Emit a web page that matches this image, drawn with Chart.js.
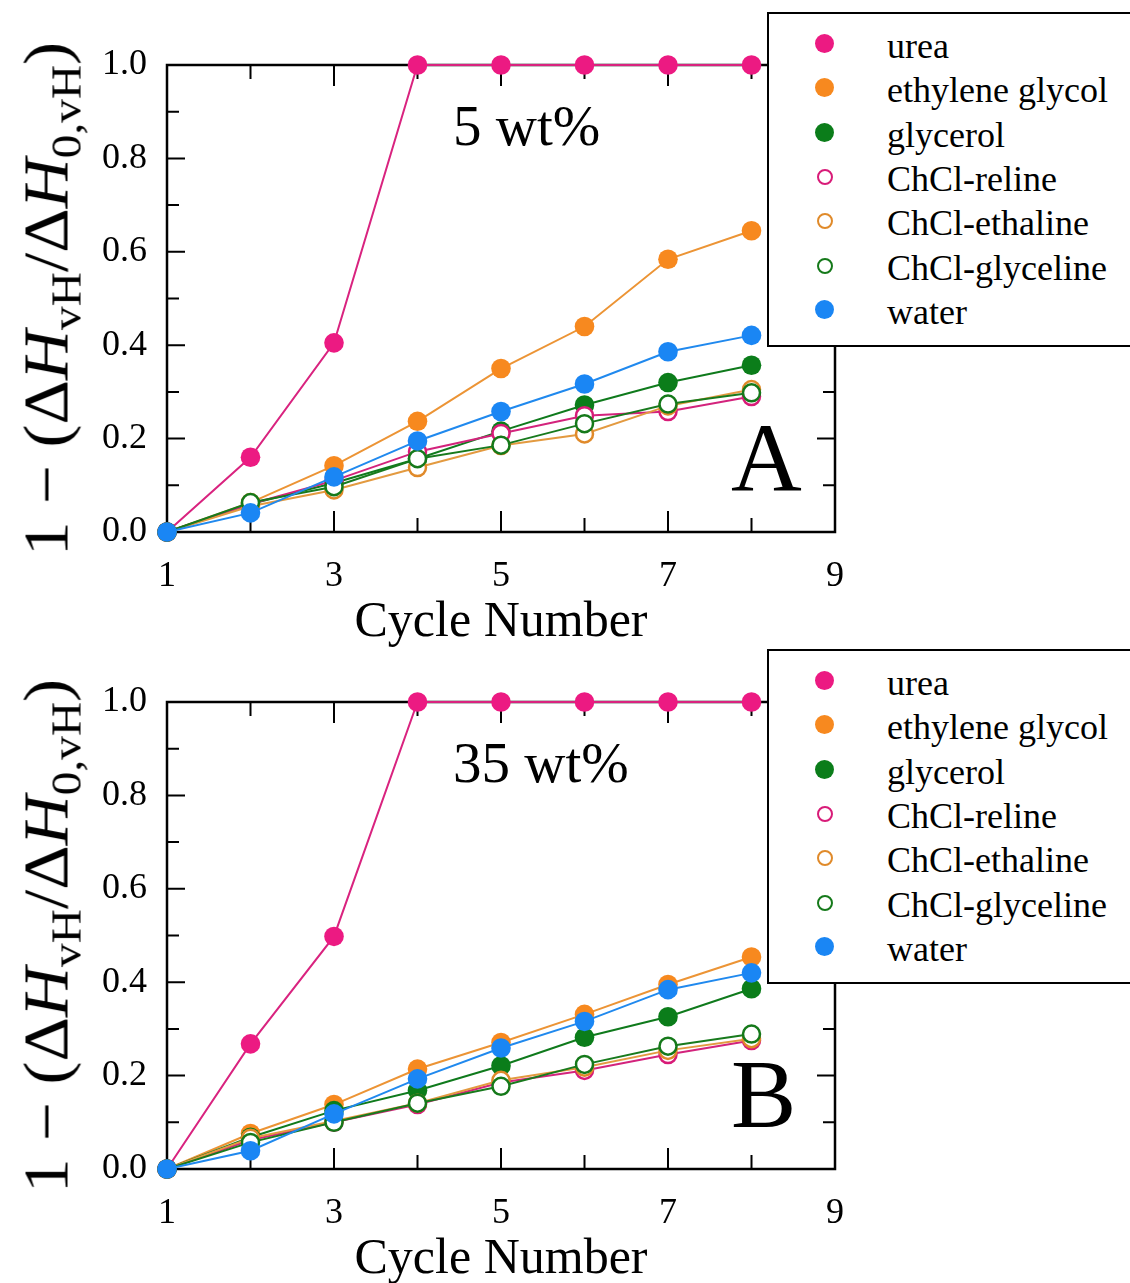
<!DOCTYPE html>
<html>
<head>
<meta charset="utf-8">
<title>Cycle Number</title>
<script src="https://cdn.jsdelivr.net/npm/chart.js@4.4.1/dist/chart.umd.min.js"></script>
<style>
  html, body { margin: 0; padding: 0; background: #fff; }
  body {
    width: 1130px; height: 1283px; position: relative; overflow: hidden;
    font-family: "Liberation Serif", "Times New Roman", serif; color: #000;
  }
  .panel { position: absolute; left: 0; width: 1130px; height: 637px; }
  .panel canvas { position: absolute; left: 0; top: 0; }
  .ytitle {
    position: absolute; left: 47px; top: 299px; font-size: 63px; line-height: 1;
    white-space: nowrap; transform: translate(-50%, -50%) rotate(-90deg) scaleX(1.1);
  }
  .ytitle .s { font-size: 43px; position: relative; top: 0.3em; }
  .tag { position: absolute; left: 453px; top: 97px; font-size: 57px; line-height: 1; }
  .letter { position: absolute; left: 731px; top: 408px; font-size: 98px; line-height: 1; }
  .legend {
    position: absolute; left: 767px; top: 12px; width: 420px; height: 331px;
    border: 2px solid #000; background: #fff;
  }
  .legend .row { position: absolute; left: 0; height: 36px; line-height: 36px; font-size: 36px; white-space: nowrap; }
  .legend .dot { position: absolute; left: 46px; top: 6px; width: 19px; height: 19px; border-radius: 50%; box-sizing: border-box; }
  .legend .txt { position: absolute; left: 118px; top: 0; }
</style>
</head>
<body>
<div class="panel" id="panel-a" style="top:0">
  <canvas id="chart-a" width="1130" height="660"></canvas>
</div>
<div class="panel" id="panel-b" style="top:637px">
  <canvas id="chart-b" width="1130" height="660"></canvas>
</div>
<script>
// series names and cycle numbers
const SERIES = ["urea", "ethylene glycol", "glycerol", "ChCl-reline", "ChCl-ethaline", "ChCl-glyceline", "water"];
const CYCLES = [1, 2, 3, 4, 5, 6, 7, 8];

// 5 wt% (panel A)
const urea5 = [0, 0.16, 0.405, 1, 1, 1, 1, 1];
const eg5 = [0, 0.063, 0.142, 0.237, 0.35, 0.44, 0.584, 0.645];
const glycerol5 = [0, 0.06, 0.105, 0.157, 0.216, 0.272, 0.32, 0.357];
const reline5 = [0, 0.06, 0.11, 0.172, 0.211, 0.249, 0.258, 0.29];
const ethaline5 = [0, 0.055, 0.09, 0.138, 0.185, 0.21, 0.27, 0.305];
const glyceline5 = [0, 0.063, 0.097, 0.157, 0.186, 0.232, 0.274, 0.298];
const water5 = [0, 0.041, 0.118, 0.195, 0.258, 0.317, 0.386, 0.421];

// 35 wt% (panel B)
const urea35 = [0, 0.268, 0.498, 1, 1, 1, 1, 1];
const eg35 = [0, 0.076, 0.138, 0.214, 0.271, 0.331, 0.395, 0.454];
const glycerol35 = [0, 0.068, 0.125, 0.168, 0.221, 0.282, 0.326, 0.386];
const reline35 = [0, 0.062, 0.1, 0.138, 0.185, 0.211, 0.245, 0.275];
const ethaline35 = [0, 0.066, 0.103, 0.141, 0.19, 0.218, 0.254, 0.279];
const glyceline35 = [0, 0.057, 0.1, 0.141, 0.177, 0.224, 0.263, 0.289];
const water35 = [0, 0.039, 0.118, 0.193, 0.259, 0.316, 0.384, 0.42];

const Y_TICKS = [0, 0.2, 0.4, 0.6, 0.8, 1.0];
const X_LABELS = [1, 3, 5, 7, 9];

const MARK_COLORS = ["#ec1a82", "#f7891f", "#0b7d1a", "#d81b78", "#e08a2a", "#15791a", "#1a86f4"];
const LINE_COLORS = ["#d9237f", "#ec9435", "#0f7a1c", "#d3237c", "#e39a40", "#187a1d", "#2089ee"];
const OPEN = [false, false, false, true, true, true, false];

const FONT = "'Liberation Serif', serif";

// frame plus inward ticks on all four sides
const frameTicks = {
  id: "frameTicks",
  beforeDatasetsDraw(chart) {
    const { ctx, chartArea: a, scales: { x, y } } = chart;
    ctx.save();
    ctx.strokeStyle = "#000";
    ctx.lineWidth = 2;
    ctx.beginPath();
    for (let v = 1; v <= 9; v++) {
      const px = x.getPixelForValue(v);
      const len = v % 2 ? 21 : 14;
      ctx.moveTo(px, a.bottom); ctx.lineTo(px, a.bottom - len);
      ctx.moveTo(px, a.top); ctx.lineTo(px, a.top + len);
    }
    for (let i = 0; i <= 10; i++) {
      const py = y.getPixelForValue(i / 10);
      const len = i % 2 ? 12 : 18;
      ctx.moveTo(a.left, py); ctx.lineTo(a.left + len, py);
      ctx.moveTo(a.right, py); ctx.lineTo(a.right - len, py);
    }
    ctx.stroke();
    ctx.lineWidth = 2.5;
    ctx.strokeRect(a.left, a.top, a.right - a.left, a.bottom - a.top);
    ctx.restore();
  }
};

function makeSets(values) {
  return SERIES.map((name, i) => ({
    label: name,
    data: CYCLES.map((c, j) => ({ x: c, y: values[i][j] })),
    borderColor: LINE_COLORS[i],
    borderWidth: 2,
    pointRadius: OPEN[i] ? 8.5 : 9.8,
    pointHoverRadius: OPEN[i] ? 8.5 : 9.8,
    pointBackgroundColor: OPEN[i] ? "#fff" : MARK_COLORS[i],
    pointBorderColor: MARK_COLORS[i],
    pointBorderWidth: OPEN[i] ? 2.5 : 0,
    tension: 0,
    clip: false,
    order: SERIES.length - 1 - i
  }));
}

function makeChart(canvasId, values) {
  return new Chart(document.getElementById(canvasId), {
    type: "line",
    data: { datasets: makeSets(values) },
    options: {
      responsive: false,
      animation: false,
      events: [],
      layout: { padding: { top: 65, right: 295, left: 0, bottom: 0 } },
      plugins: { legend: { display: false }, tooltip: { enabled: false } },
      scales: {
        x: {
          type: "linear", min: 1, max: 9,
          grid: { display: false }, border: { display: false },
          afterFit: (s) => { s.height = 128; },
          afterBuildTicks: (s) => { s.ticks = X_LABELS.map((v) => ({ value: v })); },
          ticks: {
            autoSkip: false, maxRotation: 0, padding: 15, color: "#000",
            font: { family: FONT, size: 36 },
            callback: (v) => String(v)
          },
          title: {
            display: true, text: "Cycle Number", color: "#000",
            font: { family: FONT, size: 50, lineHeight: 0.6 },
            padding: { top: 0, bottom: 22 }
          }
        },
        y: {
          min: 0, max: 1,
          grid: { display: false }, border: { display: false },
          afterFit: (s) => { s.width = 167; },
          afterBuildTicks: (s) => { s.ticks = Y_TICKS.map((v) => ({ value: v })); },
          ticks: {
            padding: 12, color: "#000",
            font: { family: FONT, size: 36 },
            callback: (v) => Number(v).toFixed(1)
          }
        }
      }
    },
    plugins: [frameTicks]
  });
}

// overlay texts: y title, panel tag and letter, legend box
function addOverlay(panelId, tag, letter) {
  const panel = document.getElementById(panelId);
  const yt = document.createElement("div");
  yt.className = "ytitle";
  yt.innerHTML = '1 \u2212 (\u0394<i>H</i><span class="s">vH</span>/\u0394<i>H</i><span class="s">0,vH</span>)';
  panel.appendChild(yt);

  const t = document.createElement("div");
  t.className = "tag";
  t.textContent = tag;
  panel.appendChild(t);

  const l = document.createElement("div");
  l.className = "letter";
  l.textContent = letter;
  panel.appendChild(l);

  const lg = document.createElement("div");
  lg.className = "legend";
  SERIES.forEach((name, i) => {
    const row = document.createElement("div");
    row.className = "row";
    row.style.top = (35 + i * 44.3 - 21) + "px";
    const dot = document.createElement("span");
    dot.className = "dot";
    if (OPEN[i]) {
      dot.style.border = "2px solid " + MARK_COLORS[i];
      dot.style.width = dot.style.height = "16px";
      dot.style.left = "48px";
      dot.style.top = "8px";
    } else {
      dot.style.background = MARK_COLORS[i];
    }
    const txt = document.createElement("span");
    txt.className = "txt";
    txt.textContent = name;
    row.appendChild(dot);
    row.appendChild(txt);
    lg.appendChild(row);
  });
  panel.appendChild(lg);
}

document.addEventListener("DOMContentLoaded", function () {
  makeChart("chart-a", [urea5, eg5, glycerol5, reline5, ethaline5, glyceline5, water5]);
  makeChart("chart-b", [urea35, eg35, glycerol35, reline35, ethaline35, glyceline35, water35]);
  addOverlay("panel-a", "5 wt%", "A");
  addOverlay("panel-b", "35 wt%", "B");
});
</script>
</body>
</html>
